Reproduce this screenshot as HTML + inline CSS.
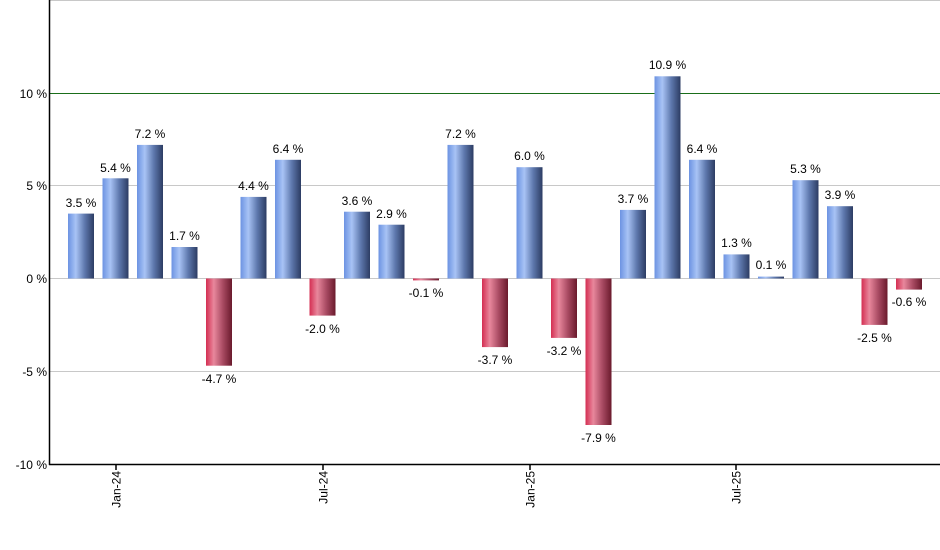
<!DOCTYPE html><html><head><style>body{margin:0;background:#fff}svg{display:block;font-family:"Liberation Sans",Arial,sans-serif}</style></head><body>
<svg width="940" height="550" viewBox="0 0 940 550">
<defs>
<linearGradient id="b" x1="0" x2="1" y1="0" y2="0"><stop offset="0" stop-color="#6c93e2"/><stop offset="0.3" stop-color="#a8c3f5"/><stop offset="0.65" stop-color="#5d77ac"/><stop offset="1" stop-color="#2c3c63"/></linearGradient>
<linearGradient id="r" x1="0" x2="1" y1="0" y2="0"><stop offset="0" stop-color="#d42e52"/><stop offset="0.3" stop-color="#e8879c"/><stop offset="0.65" stop-color="#a84a62"/><stop offset="1" stop-color="#6a1a2c"/></linearGradient>
</defs>
<g stroke="#c8c8c8" stroke-width="1">
<line x1="50" x2="940" y1="0.5" y2="0.5"/><line x1="50" x2="940" y1="185.5" y2="185.5"/><line x1="50" x2="940" y1="278.5" y2="278.5"/><line x1="50" x2="940" y1="371.5" y2="371.5"/>
</g>
<line x1="50" x2="940" y1="93.5" y2="93.5" stroke="#1a6e1a"/>
<g fill="url(#b)">
<rect x="68" y="213.6" width="26" height="64.9"/>
<rect x="102.5" y="178.3" width="26" height="100.2"/>
<rect x="137" y="144.9" width="26" height="133.6"/>
<rect x="171.5" y="247" width="26" height="31.5"/>
<rect x="240.5" y="196.9" width="26" height="81.6"/>
<rect x="275" y="159.8" width="26" height="118.7"/>
<rect x="344" y="211.7" width="26" height="66.8"/>
<rect x="378.5" y="224.7" width="26" height="53.8"/>
<rect x="447.5" y="144.9" width="26" height="133.6"/>
<rect x="516.5" y="167.2" width="26" height="111.3"/>
<rect x="620" y="209.9" width="26" height="68.6"/>
<rect x="654.5" y="76.3" width="26" height="202.2"/>
<rect x="689" y="159.8" width="26" height="118.7"/>
<rect x="723.5" y="254.4" width="26" height="24.1"/>
<rect x="758" y="276.6" width="26" height="1.9"/>
<rect x="792.5" y="180.2" width="26" height="98.3"/>
<rect x="827" y="206.2" width="26" height="72.3"/>
</g>
<g fill="url(#r)">
<rect x="206" y="278.5" width="26" height="87.2"/>
<rect x="309.5" y="278.5" width="26" height="37.1"/>
<rect x="413" y="278.5" width="26" height="1.9"/>
<rect x="482" y="278.5" width="26" height="68.6"/>
<rect x="551" y="278.5" width="26" height="59.4"/>
<rect x="585.5" y="278.5" width="26" height="146.5"/>
<rect x="861.5" y="278.5" width="26" height="46.4"/>
<rect x="896" y="278.5" width="26" height="11.1"/>
</g>
<g font-size="12" fill="#000" text-anchor="middle">
<text x="81" y="207">3.5 %</text><text x="115.5" y="172">5.4 %</text><text x="150" y="138">7.2 %</text><text x="184.5" y="240">1.7 %</text>
<text x="219" y="383">-4.7 %</text><text x="253.5" y="190">4.4 %</text><text x="288" y="153">6.4 %</text><text x="322.5" y="333">-2.0 %</text>
<text x="357" y="205">3.6 %</text><text x="391.5" y="218">2.9 %</text><text x="426" y="297">-0.1 %</text><text x="460.5" y="138">7.2 %</text>
<text x="495" y="364">-3.7 %</text><text x="529.5" y="160">6.0 %</text><text x="564" y="355">-3.2 %</text><text x="598.5" y="442">-7.9 %</text>
<text x="633" y="203">3.7 %</text><text x="667.5" y="69">10.9 %</text><text x="702" y="153">6.4 %</text><text x="736.5" y="247">1.3 %</text>
<text x="771" y="269">0.1 %</text><text x="805.5" y="173">5.3 %</text><text x="840" y="199">3.9 %</text><text x="874.5" y="342">-2.5 %</text><text x="909" y="306">-0.6 %</text>
</g>
<g font-size="12" fill="#000" text-anchor="end">
<text x="47" y="98">10 %</text><text x="47" y="190">5 %</text><text x="47" y="283">0 %</text><text x="47" y="376">-5 %</text><text x="47" y="469">-10 %</text>
</g>
<g stroke="#000" stroke-width="1.5">
<line x1="49.5" x2="49.5" y1="0" y2="465"/><line x1="49" x2="940" y1="464.5" y2="464.5"/>
<line x1="116" x2="116" y1="464" y2="470"/><line x1="323" x2="323" y1="464" y2="470"/><line x1="530" x2="530" y1="464" y2="470"/><line x1="736" x2="736" y1="464" y2="470"/>
</g>
<g font-size="12" fill="#000" text-anchor="end">
<text transform="translate(120.5,471) rotate(-90)">Jan-24</text>
<text transform="translate(327.5,471) rotate(-90)">Jul-24</text>
<text transform="translate(534.5,471) rotate(-90)">Jan-25</text>
<text transform="translate(740.5,471) rotate(-90)">Jul-25</text>
</g>
</svg></body></html>
